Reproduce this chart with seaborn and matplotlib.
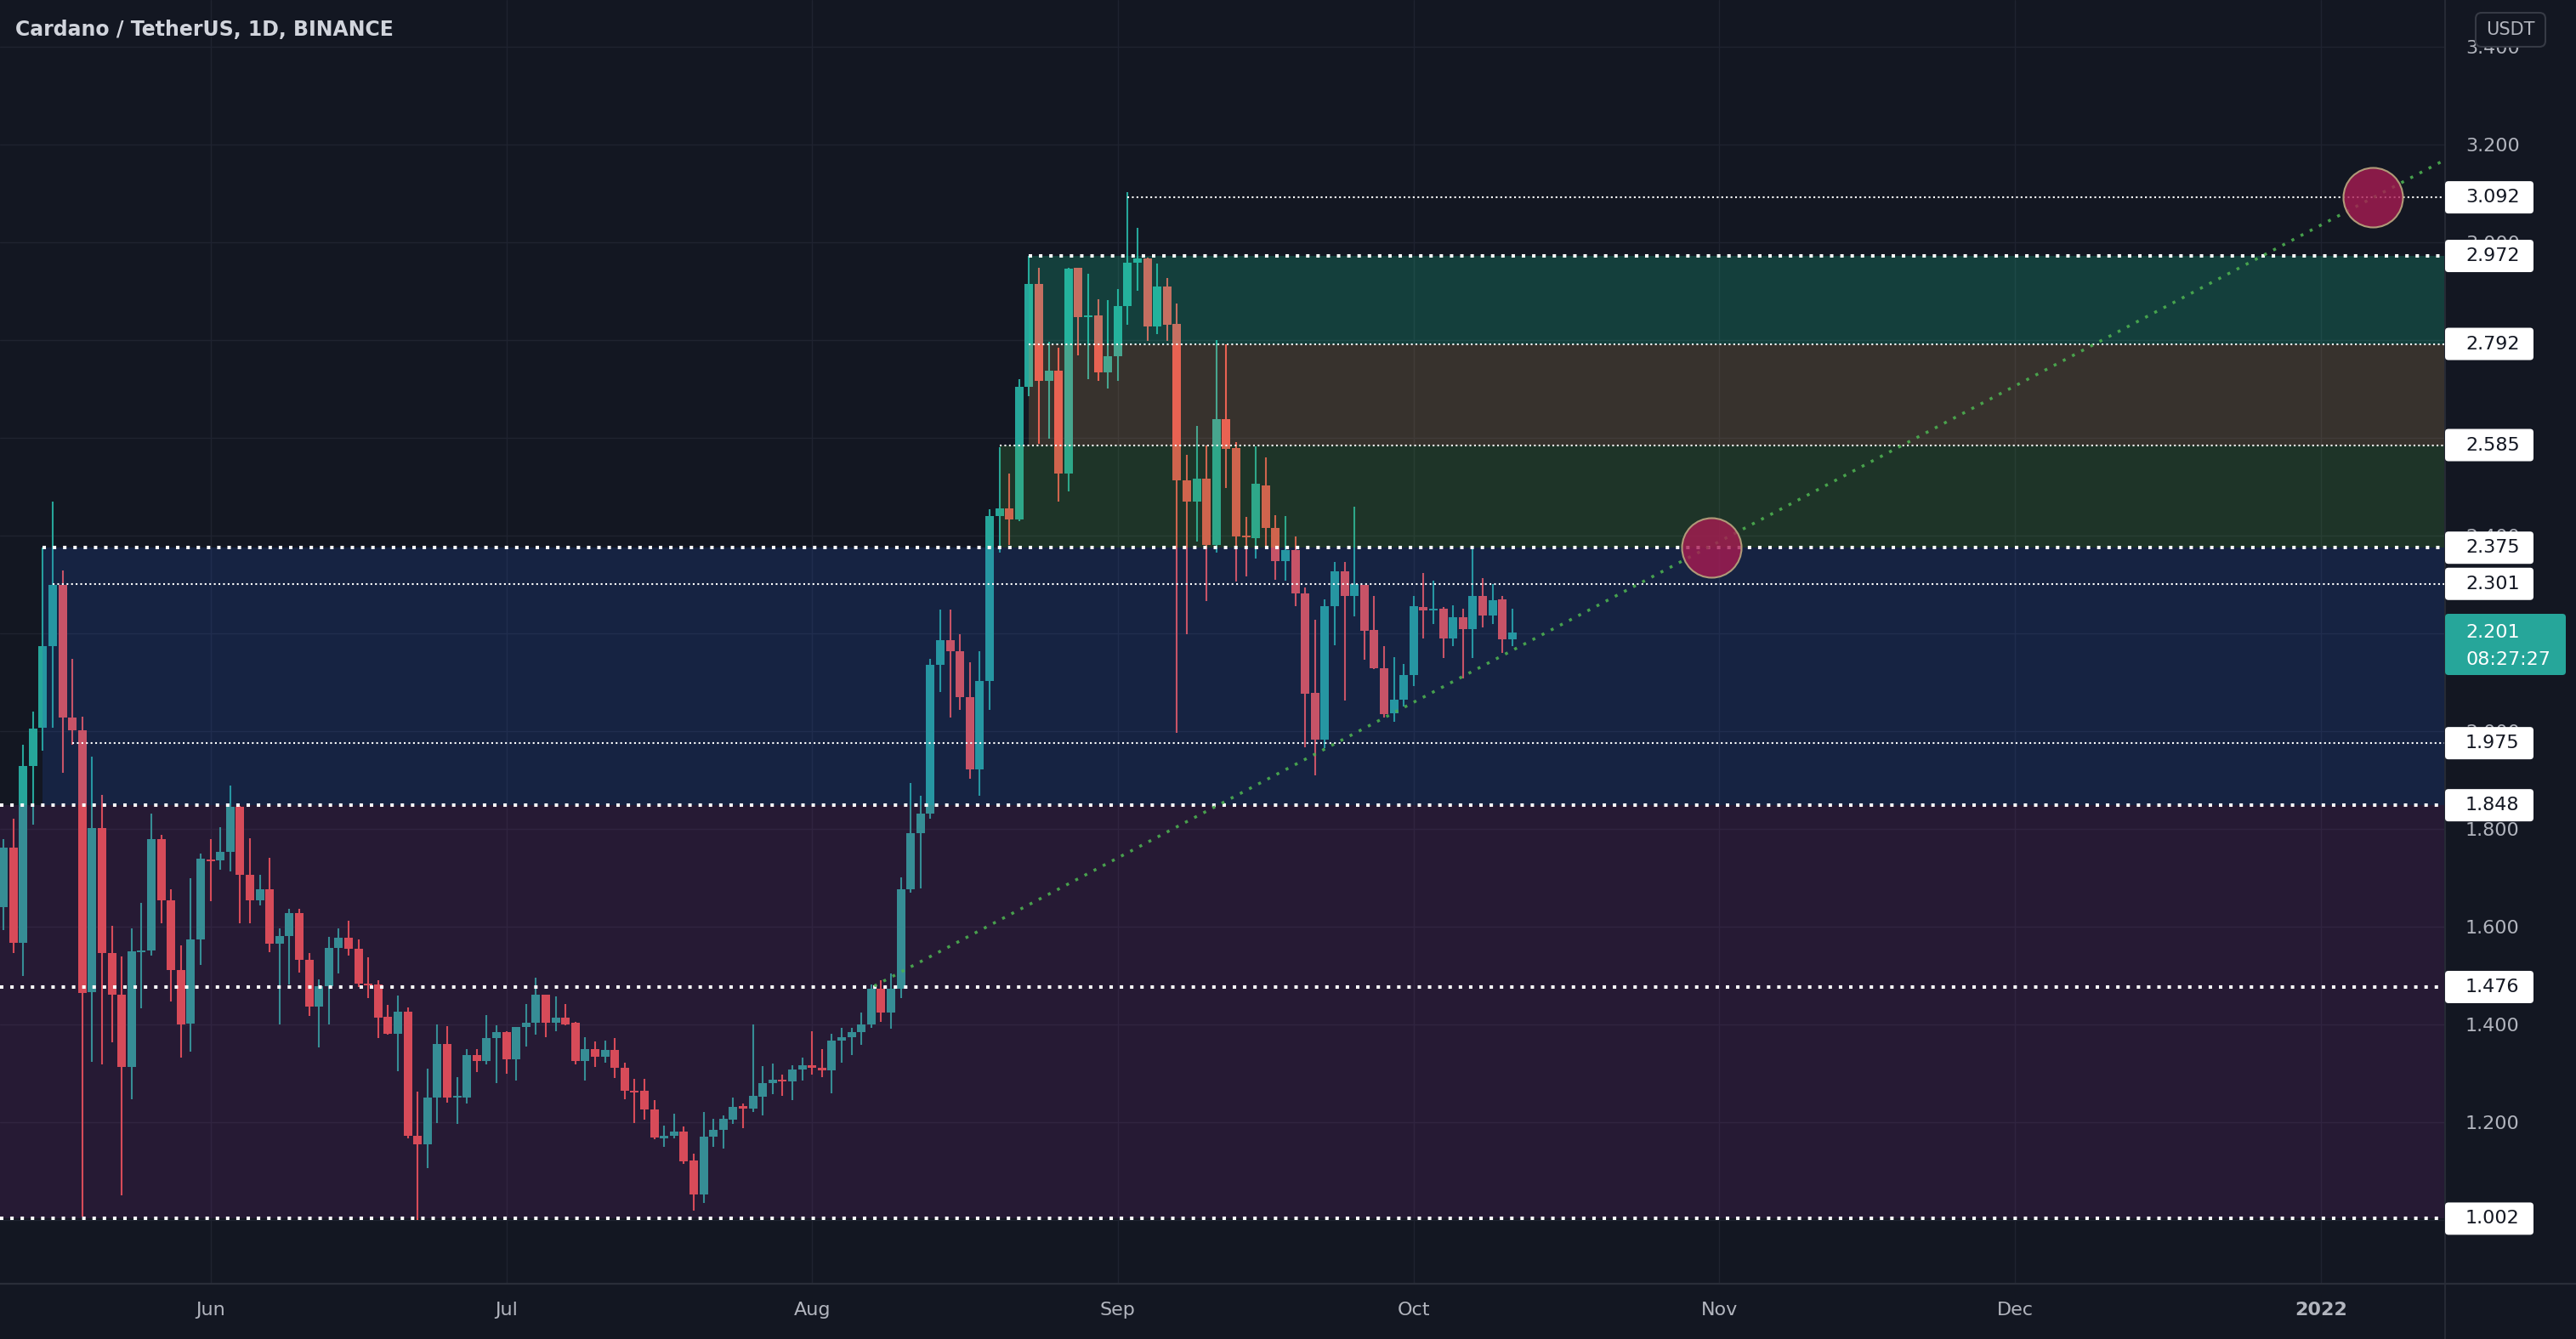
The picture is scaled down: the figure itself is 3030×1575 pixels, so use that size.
import numpy as np
import pandas as pd
import matplotlib
matplotlib.use("Agg")
import matplotlib.pyplot as plt
import matplotlib.transforms as mtransforms
from matplotlib.patches import FancyBboxPatch, Rectangle
from matplotlib.lines import Line2D
import seaborn as sns

# ---------------- data ----------------
start_date = "2021-05-11"

opens = [1.639, 1.761, 1.566, 1.928, 2.006, 2.173, 2.299, 2.028, 2.002, 1.466,
         1.801, 1.546, 1.461, 1.312, 1.547, 1.551, 1.778, 1.653, 1.511, 1.401,
         1.573, 1.736, 1.736, 1.753, 1.845, 1.706, 1.653, 1.676, 1.564, 1.581,
         1.628, 1.531, 1.436, 1.478, 1.556, 1.576, 1.554, 1.483, 1.481, 1.415,
         1.380, 1.425, 1.172, 1.154, 1.249, 1.359, 1.250, 1.250, 1.337, 1.324,
         1.372, 1.383, 1.328, 1.394, 1.402, 1.460, 1.402, 1.414, 1.402, 1.325,
         1.349, 1.334, 1.347, 1.311, 1.263, 1.263, 1.226, 1.167, 1.171, 1.180,
         1.121, 1.052, 1.169, 1.184, 1.205, 1.233, 1.227, 1.252, 1.279, 1.287,
         1.283, 1.307, 1.316, 1.310, 1.305, 1.367, 1.374, 1.384, 1.400, 1.472,
         1.423, 1.472, 1.676, 1.791, 1.830, 2.136, 2.185, 2.164, 2.069, 1.922,
         2.102, 2.440, 2.455, 2.433, 2.705, 2.915, 2.716, 2.738, 2.527, 2.948,
         2.846, 2.850, 2.733, 2.766, 2.869, 2.959, 2.967, 2.827, 2.909, 2.833,
         2.512, 2.469, 2.517, 2.381, 2.638, 2.579, 2.398, 2.394, 2.502, 2.416,
         2.348, 2.371, 2.281, 2.078, 1.983, 2.256, 2.326, 2.276, 2.298, 2.206,
         2.129, 2.037, 2.064, 2.115, 2.254, 2.246, 2.251, 2.189, 2.232, 2.208,
         2.277, 2.236, 2.269, 2.188]
highs = [1.779, 1.821, 1.971, 2.040, 2.375, 2.470, 2.328, 2.147, 2.030, 1.948,
         1.869, 1.601, 1.538, 1.596, 1.648, 1.831, 1.788, 1.676, 1.561, 1.699,
         1.749, 1.779, 1.803, 1.889, 1.846, 1.781, 1.706, 1.741, 1.596, 1.636,
         1.636, 1.546, 1.491, 1.579, 1.596, 1.611, 1.573, 1.537, 1.490, 1.439,
         1.459, 1.435, 1.262, 1.309, 1.400, 1.396, 1.292, 1.349, 1.349, 1.418,
         1.398, 1.386, 1.395, 1.442, 1.495, 1.460, 1.457, 1.441, 1.405, 1.373,
         1.365, 1.366, 1.372, 1.321, 1.288, 1.288, 1.245, 1.193, 1.216, 1.191,
         1.135, 1.220, 1.207, 1.213, 1.249, 1.238, 1.400, 1.314, 1.320, 1.296,
         1.316, 1.331, 1.385, 1.349, 1.381, 1.392, 1.393, 1.424, 1.482, 1.489,
         1.503, 1.700, 1.894, 1.867, 2.147, 2.249, 2.249, 2.198, 2.140, 2.163,
         2.453, 2.581, 2.527, 2.719, 2.973, 2.948, 2.796, 2.785, 2.948, 2.948,
         2.935, 2.883, 2.881, 2.904, 3.102, 3.030, 2.969, 2.956, 2.927, 2.875,
         2.565, 2.625, 2.585, 2.800, 2.791, 2.591, 2.438, 2.583, 2.559, 2.441,
         2.440, 2.398, 2.294, 2.228, 2.269, 2.345, 2.345, 2.459, 2.298, 2.277,
         2.173, 2.151, 2.137, 2.276, 2.323, 2.308, 2.254, 2.257, 2.251, 2.373,
         2.312, 2.301, 2.277, 2.250]
lows = [1.593, 1.546, 1.499, 1.808, 1.960, 2.007, 1.914, 1.971, 1.007, 1.322,
        1.317, 1.363, 1.050, 1.247, 1.433, 1.540, 1.606, 1.446, 1.331, 1.343,
        1.521, 1.651, 1.716, 1.713, 1.606, 1.606, 1.643, 1.548, 1.399, 1.481,
        1.506, 1.416, 1.353, 1.399, 1.503, 1.541, 1.476, 1.454, 1.372, 1.378,
        1.303, 1.166, 1.000, 1.105, 1.198, 1.240, 1.195, 1.238, 1.302, 1.317,
        1.280, 1.299, 1.284, 1.354, 1.379, 1.374, 1.385, 1.398, 1.317, 1.284,
        1.313, 1.321, 1.289, 1.247, 1.198, 1.204, 1.164, 1.149, 1.166, 1.114,
        1.018, 1.034, 1.149, 1.146, 1.195, 1.187, 1.220, 1.213, 1.256, 1.254,
        1.245, 1.285, 1.297, 1.291, 1.258, 1.321, 1.337, 1.358, 1.393, 1.405,
        1.390, 1.454, 1.669, 1.678, 1.820, 2.080, 2.027, 2.043, 1.902, 1.867,
        2.043, 2.365, 2.380, 2.430, 2.685, 2.588, 2.598, 2.469, 2.491, 2.769,
        2.719, 2.717, 2.700, 2.717, 2.831, 2.900, 2.798, 2.812, 2.798, 1.996,
        2.198, 2.388, 2.266, 2.365, 2.498, 2.306, 2.316, 2.352, 2.377, 2.310,
        2.308, 2.256, 1.967, 1.909, 1.964, 2.176, 2.063, 2.235, 2.146, 2.127,
        2.028, 2.019, 2.050, 2.091, 2.190, 2.218, 2.149, 2.173, 2.108, 2.150,
        2.211, 2.218, 2.160, 2.173]
closes = [1.761, 1.566, 1.929, 2.004, 2.173, 2.299, 2.028, 2.002, 1.464, 1.801,
          1.546, 1.461, 1.312, 1.549, 1.551, 1.779, 1.653, 1.511, 1.399, 1.573,
          1.738, 1.734, 1.753, 1.845, 1.706, 1.653, 1.676, 1.564, 1.581, 1.628,
          1.531, 1.436, 1.478, 1.556, 1.576, 1.554, 1.483, 1.480, 1.413, 1.380,
          1.425, 1.172, 1.154, 1.250, 1.359, 1.250, 1.252, 1.337, 1.324, 1.372,
          1.383, 1.328, 1.395, 1.402, 1.460, 1.402, 1.414, 1.400, 1.325, 1.349,
          1.334, 1.347, 1.311, 1.263, 1.261, 1.226, 1.168, 1.171, 1.180, 1.120,
          1.052, 1.170, 1.183, 1.206, 1.231, 1.227, 1.253, 1.279, 1.286, 1.283,
          1.307, 1.316, 1.310, 1.305, 1.367, 1.374, 1.384, 1.400, 1.472, 1.423,
          1.472, 1.676, 1.791, 1.830, 2.136, 2.185, 2.164, 2.069, 1.922, 2.102,
          2.440, 2.455, 2.433, 2.705, 2.915, 2.716, 2.738, 2.527, 2.946, 2.846,
          2.850, 2.733, 2.766, 2.869, 2.959, 2.967, 2.827, 2.909, 2.831, 2.512,
          2.469, 2.517, 2.381, 2.638, 2.577, 2.398, 2.396, 2.506, 2.415, 2.348,
          2.371, 2.281, 2.077, 1.983, 2.256, 2.326, 2.276, 2.301, 2.205, 2.128,
          2.035, 2.064, 2.115, 2.256, 2.246, 2.251, 2.189, 2.233, 2.208, 2.277,
          2.236, 2.267, 2.188, 2.201]

month_dates = ["2021-06-01", "2021-07-01", "2021-08-01", "2021-09-01",
               "2021-10-01", "2021-11-01", "2021-12-01", "2022-01-01"]
month_labels = ["Jun", "Jul", "Aug", "Sep", "Oct", "Nov", "Dec", "2022"]

price_ticks = [1.0, 1.2, 1.4, 1.6, 1.8, 2.0, 2.2, 2.4, 2.6, 2.8, 3.0, 3.2, 3.4]
# tick labels that stay visible next to the level tags on the price scale
price_tick_labels = ["", "1.200", "1.400", "1.600", "1.800", "2.000", "",
                     "2.400", "", "", "3.000", "3.200", "3.400"]

level_prices = [3.092, 2.972, 2.792, 2.585, 2.375, 2.301, 1.975, 1.848, 1.476, 1.002]
level_labels = ["3.092", "2.972", "2.792", "2.585", "2.375", "2.301", "1.975",
                "1.848", "1.476", "1.002"]
level_start_days = [114, 104, 104, 101, 4, 5, 7, None, None, None]
level_heavy = [False, True, False, False, True, False, False, True, True, True]

zone_bottoms = [1.002, 1.848, 2.375, 2.585, 2.792]
zone_tops = [1.848, 2.375, 2.585, 2.792, 2.972]
zone_start_days = [None, 4, 101, 104, 104]
zone_colors = ["#772b81", "#2758c7", "#4fad45", "#cca35e", "#1de4a9"]

trend_days = [88.3, 247.5]
trend_prices = [1.478, 3.168]

target_days = [173.2, 240.3]
target_prices = [2.375, 3.092]

last_price = 2.201
last_price_label = "2.201"
countdown_label = "08:27:27"
title_text = "Cardano / TetherUS, 1D, BINANCE"

# ---------------- styling ----------------
BG = "#131722"
TXT = "#b2b5be"
UP = "#26a69a"
DOWN = "#ef5350"

sns.set_theme(style="dark", rc={
    "axes.facecolor": BG, "figure.facecolor": BG,
    "axes.edgecolor": BG, "grid.color": "#1f2330",
})
plt.rcParams["font.family"] = ["DejaVu Sans"]

W, H, DPI = 3030, 1575, 100
fig = plt.figure(figsize=(W / DPI, H / DPI), dpi=DPI)
AX_W, AX_H = 2875, 1509
ax = fig.add_axes([0, (H - AX_H) / H, AX_W / W, AX_H / H])

df = pd.DataFrame({"open": opens, "high": highs, "low": lows, "close": closes})
df["day"] = np.arange(len(df))
df["up"] = df["close"] >= df["open"]
colors = np.where(df["up"], UP, DOWN)

x_left = -4 / 11.6
x_right = (AX_W - 4) / 11.6
Y_LO, Y_HI = 0.8705, 3.4958
ax.set_xlim(x_left, x_right)
ax.set_ylim(Y_LO, Y_HI)

# grid
ax.set_axisbelow(True)
ax.grid(True, color="#1f2330", lw=1.0)

# candles
ax.vlines(df["day"], df["low"], df["high"], colors=colors, lw=1.5, zorder=2)
body_bottom = np.minimum(df["open"], df["close"])
body_h = np.maximum(np.abs(df["close"] - df["open"]), 0.0035)
ax.bar(df["day"], body_h, bottom=body_bottom, width=0.86, color=colors,
       lw=0, zorder=2.1)

# zones
for lo, hi, sd, c in zip(zone_bottoms, zone_tops, zone_start_days, zone_colors):
    x0 = x_left if sd is None else sd
    ax.add_patch(Rectangle((x0, lo), x_right - x0, hi - lo, facecolor=c,
                           alpha=0.2, lw=0, zorder=3))

# level lines
for p, sd, heavy in zip(level_prices, level_start_days, level_heavy):
    x0 = x_left if sd is None else sd
    if heavy:
        ax.hlines(p, x0, x_right, colors="white", lw=2.9,
                  linestyles=(0, (1, 2)), zorder=4)
    else:
        ax.hlines(p, x0, x_right, colors="white", lw=1.5,
                  linestyles=(0, (1, 1.6)), zorder=4)

# trend line
sns.lineplot(x=trend_days, y=trend_prices, ax=ax, color="#4caf50", lw=2.5,
             linestyle=(0, (1, 2.5)), zorder=4.5, alpha=0.9)

# target circles
sns.scatterplot(x=target_days, y=target_prices, ax=ax, s=2540,
                color=(0.66, 0.106, 0.32, 0.8), edgecolor="#b09a78",
                linewidth=1.5, zorder=6, legend=False)

ax.set_xlim(x_left, x_right)
ax.set_ylim(Y_LO, Y_HI)

# axes ticks
start = pd.Timestamp(start_date)
month_days = [(pd.Timestamp(d) - start).days for d in month_dates]
ax.set_xticks(month_days)
ax.set_xticklabels(month_labels)
ax.set_yticks(price_ticks)
ax.set_yticklabels(price_tick_labels)
ax.yaxis.tick_right()
ax.tick_params(axis="y", length=0, pad=18, labelsize=16, labelcolor=TXT)
ax.tick_params(axis="x", length=0, pad=16, labelsize=16, labelcolor=TXT)
for lab in ax.get_xticklabels():
    if lab.get_text() == "2022":
        lab.set_fontweight("bold")
for s in ax.spines.values():
    s.set_visible(False)
ax.set_xlabel("")
ax.set_ylabel("")

ident = mtransforms.IdentityTransform()


def ypx(p):
    return ax.transData.transform((0, p))[1]


# separators
fig.add_artist(Line2D([AX_W + 0.5, AX_W + 0.5], [0, H], transform=ident,
                      color="#2a2e39", lw=1.2, zorder=2))
fig.add_artist(Line2D([0, W], [H - AX_H - 1, H - AX_H - 1], transform=ident,
                      color="#2a2e39", lw=1.6, zorder=2))

# level labels on price scale
for p, lab in zip(level_prices, level_labels):
    yc = ypx(p)
    fig.add_artist(FancyBboxPatch((AX_W + 1, yc - 19), 104, 38,
                                  boxstyle="round,pad=0,rounding_size=4",
                                  fc="white", ec="none", transform=ident,
                                  zorder=5))
    fig.text(2900 / W, yc / H, lab, ha="left", va="center", color="#131722",
             fontsize=16, zorder=6)

# current price label
fig.add_artist(FancyBboxPatch((AX_W + 1, H - 794), 142, 72,
                              boxstyle="round,pad=0,rounding_size=4",
                              fc=UP, ec="none", transform=ident, zorder=5))
fig.text(2900 / W, (H - 744) / H, last_price_label, ha="left", va="center",
         color="white", fontsize=16, zorder=6)
fig.text(2900 / W, (H - 776) / H, countdown_label, ha="left", va="center",
         color="white", fontsize=16, zorder=6)

# currency box
fig.add_artist(FancyBboxPatch((2912, H - 55), 82, 40,
                              boxstyle="round,pad=0,rounding_size=7",
                              fc=BG, ec="#363a45", lw=1.5, transform=ident,
                              zorder=5))
fig.text(2953 / W, (H - 35) / H, "USDT", ha="center", va="center", color=TXT,
         fontsize=15, zorder=6)

# title
fig.text(18 / W, (H - 35) / H, title_text, ha="left", va="center",
         color="#d1d4dc", fontsize=17, fontweight="bold", zorder=6)

fig.savefig("out.png", dpi=DPI, facecolor=BG)
